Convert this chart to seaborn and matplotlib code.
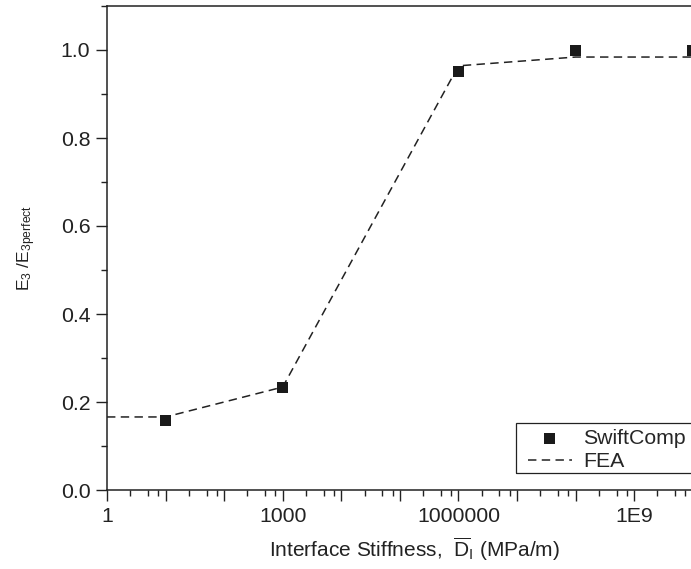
import numpy as np
import pandas as pd
import matplotlib
matplotlib.use("Agg")
import matplotlib.pyplot as plt
import matplotlib.ticker as mticker
from matplotlib.patches import Rectangle
import seaborn as sns

# SwiftComp predictions
swift_stiffness = [1e1, 1e3, 1e6, 1e8, 1e10]
swift_ratio = [0.157, 0.234, 0.952, 0.998, 0.998]

# FEA reference curve
fea_stiffness = [1, 1e1, 1e3, 1e6, 1e8, 1e10]
fea_ratio = [0.166, 0.166, 0.234, 0.964, 0.984, 0.984]

tick_values = [1, 1e3, 1e6, 1e9]
tick_labels = ["1", "1000", "1000000", "1E9"]

sns.set_style("ticks")
plt.rcParams["font.family"] = ["Liberation Sans", "DejaVu Sans"]
plt.rcParams["mathtext.fontset"] = "custom"
plt.rcParams["mathtext.rm"] = "Liberation Sans"
plt.rcParams["mathtext.it"] = "Liberation Sans"

W, H = 691, 569
fig = plt.figure(figsize=(W / 100, H / 100), dpi=100)
ax = fig.add_axes([107 / W, 79 / H, 615 / W, 484 / H])

swift = pd.DataFrame({"x": swift_stiffness, "y": swift_ratio})
fea = pd.DataFrame({"x": fea_stiffness, "y": fea_ratio})

sns.lineplot(data=fea, x="x", y="y", ax=ax, color="#222222", lw=1.1,
             linestyle=(0, (5.5, 3.5)), label="FEA", zorder=2)
sns.scatterplot(data=swift, x="x", y="y", ax=ax, marker="s", s=62,
                color="#1a1a1a", edgecolor="none", label="SwiftComp",
                zorder=3, clip_on=False)

ax.set_xscale("log")
ax.set_xlim(1, 10 ** 10.5)
ax.set_ylim(0, 1.1)

ax.xaxis.set_major_locator(mticker.LogLocator(base=10, numticks=20))
ax.xaxis.set_minor_locator(mticker.FixedLocator(
    [m * 10.0 ** d for d in range(0, 11) for m in (2.5, 5, 7.5)]))
label_map = dict(zip(tick_values, tick_labels))


def fmt(v, pos):
    for k, s in label_map.items():
        if abs(np.log10(v) - np.log10(k)) < 1e-6:
            return s
    return ""


ax.xaxis.set_major_formatter(mticker.FuncFormatter(fmt))
ax.xaxis.set_minor_formatter(mticker.NullFormatter())

ax.yaxis.set_major_locator(mticker.MultipleLocator(0.2))
ax.yaxis.set_minor_locator(mticker.MultipleLocator(0.1))
ax.yaxis.set_major_formatter(mticker.FormatStrFormatter("%.1f"))

for side in ("left", "bottom", "top", "right"):
    ax.spines[side].set_visible(True)
    ax.spines[side].set_linewidth(1.1)
    ax.spines[side].set_color("#222222")

ax.tick_params(which="major", direction="out", length=8, width=1.0,
               color="#222222", labelsize=15.3, labelcolor="#222222", pad=4)
ax.tick_params(which="minor", direction="out", length=4.5, width=1.0,
               color="#222222")
ax.tick_params(top=False, right=False, which="both")

ax.set_xlabel(r"Interface Stiffness,  $\overline{\mathrm{D}}_{\mathrm{I}}$ (MPa/m)",
              fontsize=15, color="#222222", labelpad=7)
ax.set_ylabel(r"E$_3$ /E$_{\mathrm{3perfect}}$", fontsize=12.5,
              color="#222222", labelpad=16)

# Legend entries without their own frame; a box is drawn separately so it
# can run past the right edge of the figure
handles, labels = ax.get_legend_handles_labels()
order = [labels.index("SwiftComp"), labels.index("FEA")]
leg = ax.legend([handles[i] for i in order], [labels[i] for i in order],
                loc="lower left", bbox_to_anchor=(0.679, 0.032),
                frameon=False, fontsize=15.3, handlelength=2.07,
                handletextpad=0.52, borderpad=0.15, labelspacing=0.2,
                borderaxespad=0)
fig.add_artist(Rectangle((516 / W, (H - 473) / H), 200 / W, 50 / H,
                         transform=fig.transFigure, fill=False,
                         edgecolor="#222222", linewidth=0.9, zorder=5))

fig.savefig("out.png", dpi=100)
